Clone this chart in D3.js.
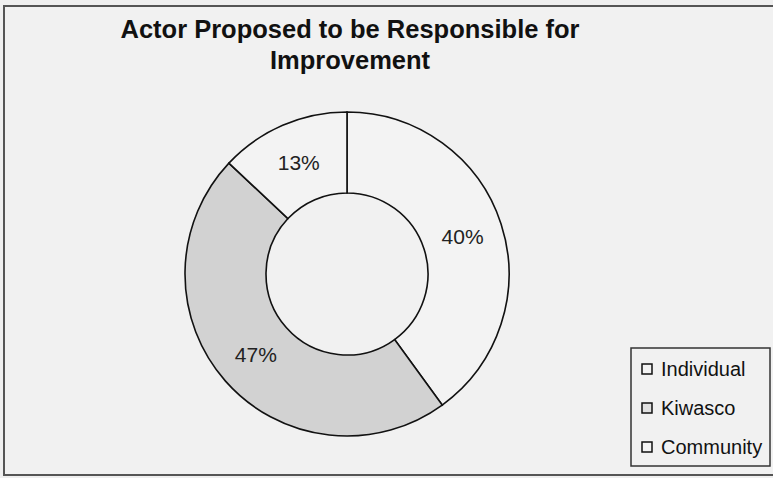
<!DOCTYPE html>
<html>
<head>
<meta charset="utf-8">
<script src="https://cdn.jsdelivr.net/npm/d3@7"></script>
<style>
  body { margin: 0; background: #efefef; }
  svg { display: block; font-family: 'Liberation Sans', Arial, sans-serif; }
</style>
</head>
<body>
<div id="chart"></div>
<script>
// Values
const categories = ['Individual', 'Kiwasco', 'Community']
const shares = [40, 47, 13]
const sliceColors = ['#f3f3f3', '#d2d2d2', '#f3f3f3']
const legendColors = ['#f3f3f3', '#e0e0e0', '#f3f3f3']
const titleLines = ['Actor Proposed to be Responsible for', 'Improvement']

const width = 773,
  height = 478

const svg = d3.select('#chart')
  .append('svg')
  .attr('width', width)
  .attr('height', height)

// page background + chart frame
svg.append('rect')
  .attr('width', width)
  .attr('height', height)
  .attr('fill', '#efefef')

svg.append('rect')
  .attr('x', 4)
  .attr('y', 6)
  .attr('width', width + 10)
  .attr('height', 469)
  .attr('fill', '#f1f1f1')
  .attr('stroke', '#555')
  .attr('stroke-width', 2)

// title
svg.append('g')
  .selectAll('text')
  .data(titleLines)
  .enter()
  .append('text')
  .attr('x', 350)
  .attr('y', (d, i) => 38 + i * 31)
  .attr('text-anchor', 'middle')
  .attr('font-size', 25.5)
  .attr('font-weight', 'bold')
  .attr('fill', '#111')
  .text(d => d)

// donut
const cx = 347,
  cy = 274,
  outerR = 162,
  innerR = 81

const pie = d3.pie().sort(null).value(d => d)
const arc = d3.arc().innerRadius(innerR).outerRadius(outerR)
const labelArc = d3.arc().innerRadius((innerR + outerR) / 2).outerRadius((innerR + outerR) / 2)

const donut = svg.append('g')
  .attr('transform', `translate(${cx}, ${cy})`)

const slices = pie(shares)

donut.selectAll('path')
  .data(slices)
  .enter()
  .append('path')
  .attr('d', arc)
  .attr('fill', (d, i) => sliceColors[i])
  .attr('stroke', '#111')
  .attr('stroke-width', 1.6)

donut.selectAll('text')
  .data(slices)
  .enter()
  .append('text')
  .attr('transform', d => `translate(${labelArc.centroid(d)})`)
  .attr('text-anchor', 'middle')
  .attr('dy', '0.36em')
  .attr('font-size', 21)
  .attr('fill', '#222')
  .text(d => d.data + '%')

// legend
const legend = svg.append('g')
  .attr('transform', 'translate(631, 348)')

legend.append('rect')
  .attr('width', 139)
  .attr('height', 118)
  .attr('fill', '#f1f1f1')
  .attr('stroke', '#333')
  .attr('stroke-width', 1.5)

const item = legend.selectAll('g.item')
  .data(categories)
  .enter()
  .append('g')
  .attr('class', 'item')
  .attr('transform', (d, i) => `translate(0, ${21 + i * 39})`)

item.append('rect')
  .attr('x', 11)
  .attr('y', -5)
  .attr('width', 10)
  .attr('height', 10)
  .attr('fill', (d, i) => legendColors[i])
  .attr('stroke', '#111')
  .attr('stroke-width', 1.5)

item.append('text')
  .attr('x', 30)
  .attr('dy', '0.36em')
  .attr('font-size', 20)
  .attr('fill', '#111')
  .text(d => d)
</script>
</body>
</html>
